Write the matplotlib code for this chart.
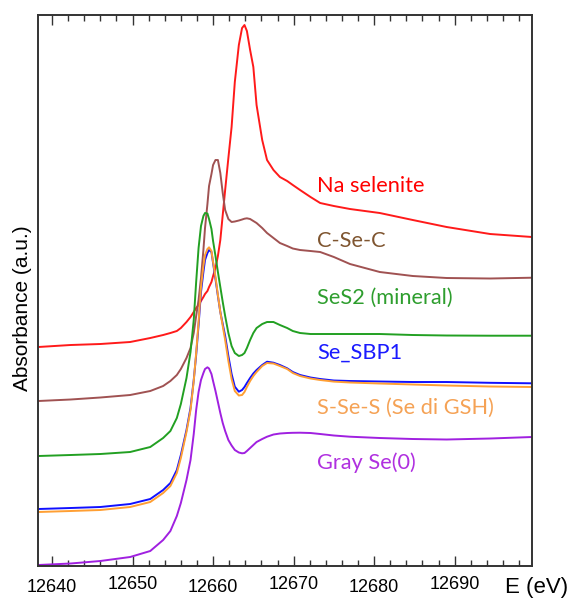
import matplotlib.pyplot as plt
from matplotlib.ticker import MultipleLocator
from matplotlib.transforms import ScaledTranslation

# Se K-edge XANES spectra (arbitrary units, curves already offset)
energy = [12638.3, 12642.3, 12646.0, 12649.7, 12652.2, 12653.8, 12654.7, 12655.5, 12656.0, 12656.7,
          12657.2, 12657.6, 12657.9, 12658.2, 12658.5, 12658.8, 12659.0, 12659.3, 12659.5, 12659.8,
          12660.0, 12660.3, 12660.6, 12660.9, 12661.2, 12661.5, 12661.9, 12662.3, 12662.7, 12663.2,
          12663.6, 12663.9, 12664.2, 12664.6, 12665.0, 12665.4, 12666.1, 12666.7, 12667.5, 12668.3,
          12669.2, 12669.9, 12670.8, 12672.1, 12673.3, 12675.0, 12677.0, 12680.7, 12684.8, 12689.0,
          12694.4, 12699.6]

na_selenite = [2.19, 2.21, 2.22, 2.24, 2.28, 2.31, 2.33, 2.35, 2.38, 2.44,
               2.49, 2.54, 2.58, 2.61, 2.65, 2.69, 2.72, 2.75, 2.79, 2.84,
               2.90, 2.98, 3.10, 3.26, 3.51, 3.76, 4.08, 4.39, 4.84, 5.21,
               5.38, 5.41, 5.35, 5.16, 4.99, 4.61, 4.26, 4.06, 3.96, 3.89,
               3.85, 3.81, 3.76, 3.69, 3.63, 3.60, 3.57, 3.53, 3.46, 3.39,
               3.32, 3.29]

c_se_c = [1.65, 1.665, 1.685, 1.71, 1.75, 1.80, 1.85, 1.91, 1.97, 2.08,
          2.18, 2.33, 2.50, 2.66, 2.88, 3.16, 3.38, 3.62, 3.80, 3.92,
          4.01, 4.06, 4.06, 3.93, 3.73, 3.56, 3.47, 3.44, 3.445, 3.455,
          3.465, 3.473, 3.477, 3.47, 3.45, 3.43, 3.38, 3.33, 3.28, 3.23,
          3.20, 3.175, 3.16, 3.15, 3.14, 3.09, 3.02, 2.94, 2.90, 2.88,
          2.875, 2.883]

ses2 = [1.10, 1.11, 1.12, 1.14, 1.19, 1.28, 1.35, 1.48, 1.62, 1.88,
        2.14, 2.46, 2.84, 3.18, 3.40, 3.50, 3.53, 3.525, 3.47, 3.37,
        3.25, 3.10, 2.94, 2.79, 2.64, 2.50, 2.33, 2.20, 2.13, 2.10,
        2.11, 2.13, 2.18, 2.26, 2.33, 2.38, 2.42, 2.44, 2.44, 2.41,
        2.38, 2.35, 2.33, 2.32, 2.32, 2.32, 2.32, 2.32, 2.31, 2.305,
        2.303, 2.303]

se_sbp1 = [0.57, 0.58, 0.59, 0.62, 0.67, 0.76, 0.83, 0.96, 1.11, 1.36,
           1.58, 1.86, 2.11, 2.41, 2.74, 2.94, 3.06, 3.13, 3.16, 3.14,
           3.03, 2.87, 2.70, 2.54, 2.42, 2.30, 2.10, 1.92, 1.793, 1.743,
           1.76, 1.79, 1.83, 1.88, 1.925, 1.96, 2.01, 2.043, 2.033, 2.01,
           1.977, 1.94, 1.91, 1.885, 1.87, 1.855, 1.85, 1.845, 1.84, 1.84,
           1.832, 1.827]

s_se_s = [0.54, 0.55, 0.56, 0.59, 0.64, 0.73, 0.80, 0.93, 1.08, 1.34,
          1.56, 1.85, 2.13, 2.44, 2.79, 3.00, 3.11, 3.17, 3.187, 3.15,
          3.04, 2.89, 2.71, 2.54, 2.40, 2.26, 2.05, 1.87, 1.75, 1.705,
          1.71, 1.74, 1.79, 1.85, 1.90, 1.94, 2.00, 2.03, 2.025, 2.00,
          1.97, 1.93, 1.90, 1.875, 1.86, 1.844, 1.835, 1.825, 1.815, 1.805,
          1.795, 1.79]

gray_se = [0.01, 0.025, 0.05, 0.09, 0.15, 0.26, 0.35, 0.50, 0.63, 0.86,
           1.06, 1.32, 1.56, 1.74, 1.86, 1.93, 1.97, 1.987, 1.975, 1.92,
           1.85, 1.75, 1.64, 1.53, 1.43, 1.35, 1.26, 1.205, 1.16, 1.135,
           1.127, 1.13, 1.15, 1.18, 1.21, 1.24, 1.27, 1.293, 1.315, 1.325,
           1.33, 1.332, 1.333, 1.33, 1.32, 1.305, 1.293, 1.28, 1.27, 1.265,
           1.275, 1.29]

names = ["Na selenite", "C-Se-C", "SeS2 (mineral)", "Se_SBP1", "S-Se-S (Se di GSH)", "Gray Se(0)"]
spectra = [na_selenite, c_se_c, ses2, se_sbp1, s_se_s, gray_se]
label_y = [3.80, 3.25, 2.68, 2.13, 1.58, 1.03]

line_colors = ["#ff1a1a", "#a05252", "#22a022", "#1010ff", "#ff9f33", "#a020e0"]
text_colors = ["#ff0000", "#7f5530", "#2e9e2e", "#1a1aff", "#f5a255", "#b030e0"]

xticks = [12640, 12650, 12660, 12670, 12680, 12690]

fig = plt.figure(figsize=(5.69, 5.98), dpi=100)
ax = fig.add_axes([0.0673, 0.0535, 0.8677, 0.9214])

for name, y, ly, lc, tc in zip(names, spectra, label_y, line_colors, text_colors):
    ax.plot(energy, y, color=lc, linewidth=1.4)
    ax.text(12672.9, ly, name, color=tc, fontsize=15.7, family=["Lato", "DejaVu Sans"],
            va="center", ha="left")

ax.set_xlim(12638.3, 12699.6)
ax.set_ylim(0, 5.51)
ax.set_xticks(xticks)
ax.set_xticklabels([str(t) for t in xticks], family=["Liberation Sans"], fontsize=13)
ax.xaxis.set_minor_locator(MultipleLocator(2))
ax.tick_params(axis="x", which="both", direction="in", top=True, bottom=True, pad=8.5)
ax.tick_params(axis="x", which="major", length=7, width=1.0, color="#333333")
ax.tick_params(axis="x", which="minor", length=4, width=1.0, color="#333333")
ax.set_yticks([])
for sp in ax.spines.values():
    sp.set_linewidth(1.4)
    sp.set_color("#333333")

# the original tick labels sit slightly staggered
for i, lbl in enumerate(ax.get_xticklabels()):
    dy = -1.5 if i % 2 == 0 else 1.5
    lbl.set_transform(lbl.get_transform() + ScaledTranslation(0, dy / 100, fig.dpi_scale_trans))

fig.text(0.0387, 0.485, "Absorbance (a.u.)", family=["Liberation Sans"], fontsize=15,
         rotation=90, ha="center", va="center")
fig.text(0.8875, 0.018, "E (eV)", family=["Liberation Sans"], fontsize=16, ha="left", va="center")

fig.savefig("out.png", dpi=100)
